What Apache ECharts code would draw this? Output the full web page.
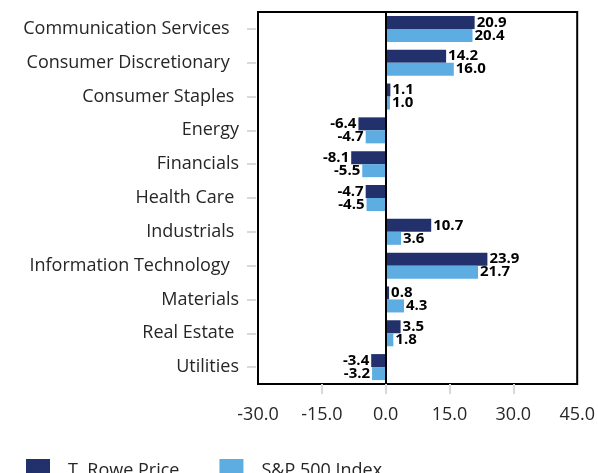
<!DOCTYPE html>
<html>
<head>
<meta charset="utf-8">
<script src="https://cdn.jsdelivr.net/npm/echarts@6/dist/echarts.min.js"></script>
<style>
  html, body { margin: 0; padding: 0; background: #fff; }
  #chart { width: 598px; height: 473px; }
</style>
</head>
<body>
<div id="chart"></div>
<script>
// Sectors, top to bottom (some labels carry trailing spaces as in the source workbook)
const sectors = [
  'Communication Services  ',
  'Consumer Discretionary  ',
  'Consumer Staples ',
  'Energy',
  'Financials',
  'Health Care ',
  'Industrials ',
  'Information Technology  ',
  'Materials',
  'Real Estate ',
  'Utilities'
];
const troweValues = [20.9, 14.2, 1.1, -6.4, -8.1, -4.7, 10.7, 23.9, 0.8, 3.5, -3.4];
const spxValues   = [20.4, 16.0, 1.0, -4.7, -5.5, -4.5, 3.6, 21.7, 4.3, 1.8, -3.2];
const seriesNames = ['T. Rowe Price', 'S&P 500 Index'];
const xTicks = [-30, -15, 0, 15, 30, 45];

const DARK = '#22306b';
const LIGHT = '#5dade2';
const FONT = 'Open Sans';

// Values become data items so negative bars put their label on the left
function toItems(values) {
  return values.map(v => ({
    value: v,
    label: { position: v < 0 ? 'left' : 'right' }
  }));
}

const valueLabel = {
  show: true,
  distance: 2,
  color: '#000',
  fontFamily: FONT,
  fontWeight: 'bold',
  fontSize: 15,
  formatter: p => p.value.toFixed(1)
};

const chart = echarts.init(document.getElementById('chart'), null, { renderer: 'canvas' });

chart.setOption({
  animation: false,
  textStyle: { fontFamily: FONT },
  grid: {
    left: 258, right: 20, top: 12, bottom: 89,
    show: true,
    borderColor: '#000',
    borderWidth: 2,
    backgroundColor: 'transparent'
  },
  legend: {
    data: seriesNames,
    left: 21, top: 454,
    icon: 'rect',
    itemWidth: 24, itemHeight: 24,
    itemGap: 40,
    textStyle: { fontFamily: FONT, fontSize: 18, color: '#262626', padding: [0, 0, 0, 13] }
  },
  xAxis: {
    type: 'value',
    min: xTicks[0], max: xTicks[xTicks.length - 1], interval: 15,
    splitLine: { show: false },
    axisLine: { show: false },
    axisTick: {
      show: true, length: 10,
      customValues: xTicks.slice(1, -1),
      lineStyle: { color: '#d9d9d9', width: 2 }
    },
    axisLabel: {
      margin: 22,
      fontFamily: FONT, fontSize: 18, color: '#262626',
      formatter: v => v.toFixed(1)
    }
  },
  yAxis: {
    type: 'category',
    data: sectors,
    inverse: true,
    offset: 2,
    axisLine: { show: false, onZero: false },
    axisTick: {
      show: true, length: 9, alignWithLabel: true,
      lineStyle: { color: '#d9d9d9', width: 2 }
    },
    axisLabel: { margin: 17, fontFamily: FONT, fontSize: 18, color: '#262626' }
  },
  series: [
    {
      name: seriesNames[0],
      type: 'bar',
      data: toItems(troweValues),
      barWidth: 13,
      barGap: '0%',
      itemStyle: { color: DARK },
      label: valueLabel,
      markLine: {
        silent: true,
        symbol: 'none',
        label: { show: false },
        lineStyle: { color: '#000', width: 2, type: 'solid' },
        data: [{ xAxis: 0 }]
      }
    },
    {
      name: seriesNames[1],
      type: 'bar',
      data: toItems(spxValues),
      barWidth: 13,
      barGap: '0%',
      itemStyle: { color: LIGHT },
      label: valueLabel
    }
  ]
});
</script>
</body>
</html>
